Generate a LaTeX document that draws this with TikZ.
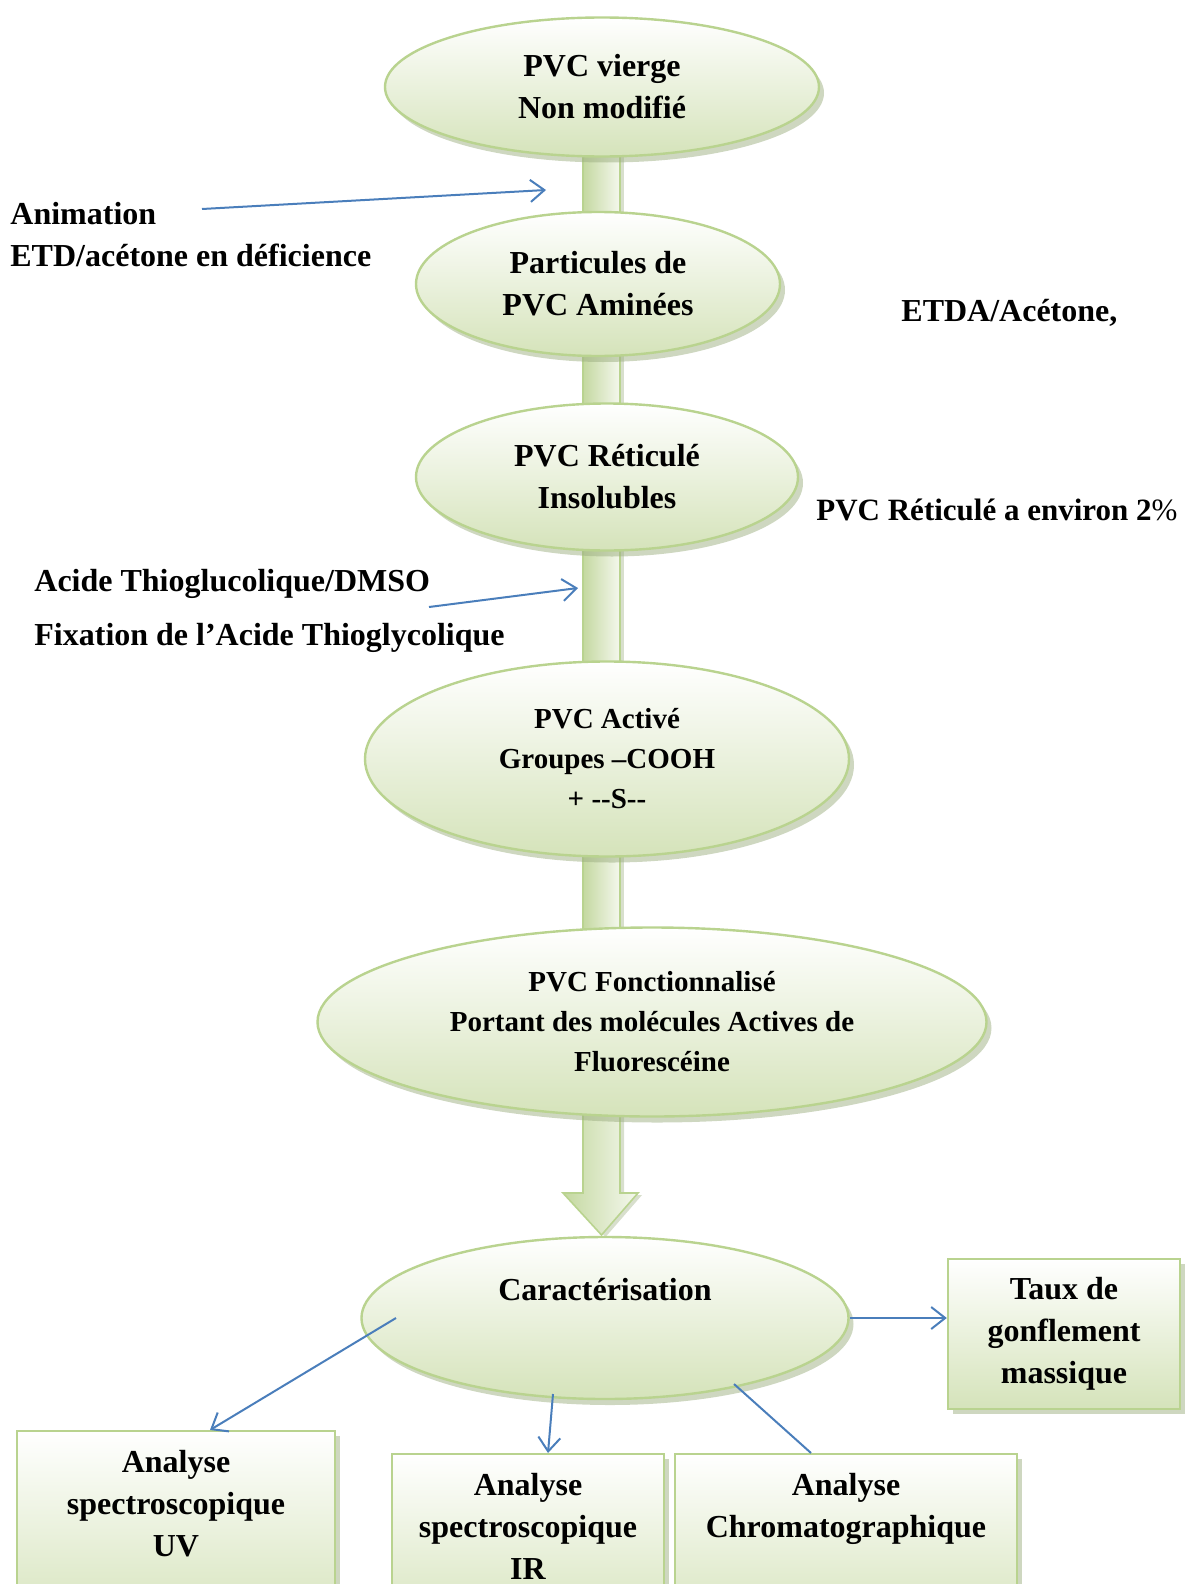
\documentclass[tikz,border=0pt]{standalone}
\usepackage{fontspec}
\setmainfont{Liberation Serif}
\usetikzlibrary{shapes.geometric,shadows,backgrounds,arrows.meta,calc}
\definecolor{rimgreen}{HTML}{B9D38F}
\definecolor{fillgreen}{HTML}{D5E3BA}
\definecolor{shaftgreen}{HTML}{C4D8A0}
\definecolor{shadowgreen}{HTML}{9DAF82}
\definecolor{linkblue}{HTML}{4A7EBB}

\begin{document}
\begin{tikzpicture}[x=0.5pt, y=-0.5pt,
    bigfont/.style={font=\bfseries\fontsize{16}{21}\selectfont},
    smallfont/.style={font=\bfseries\fontsize{14.5}{20}\selectfont},
    blob/.style={ellipse, draw=rimgreen, line width=1.2pt, inner sep=0pt, align=center, bigfont,
        drop shadow={shadow xshift=2.5pt, shadow yshift=-3pt, fill=shadowgreen, opacity=0.5},
        top color=white, bottom color=fillgreen},
    panel/.style={rectangle, draw=rimgreen, line width=1.2pt, inner sep=0pt, align=center, bigfont,
        drop shadow={shadow xshift=2.5pt, shadow yshift=-2.5pt, fill=shadowgreen, opacity=0.5},
        top color=white, bottom color=fillgreen},
    note/.style={inner sep=0pt, align=left, bigfont},
    shaft/.style={draw=rimgreen, line width=0.8pt, left color=shaftgreen, right color=fillgreen!25,
        drop shadow={shadow xshift=2pt, shadow yshift=-1pt, fill=shadowgreen, opacity=0.4}},
    link/.style={draw=linkblue, line width=1pt, -{Straight Barb[length=7pt, width=11pt]}},
    plainlink/.style={draw=linkblue, line width=1pt}
  ]
  \useasboundingbox (0,0) rectangle (1192,1584);

  % main chain
  \draw (602,87) node [blob, minimum width=217pt, minimum height=69.5pt] (vierge) {PVC vierge\\Non modifié};
  \draw (598,284) node [blob, minimum width=182pt, minimum height=72pt] (amine) {Particules de\\PVC Aminées};
  \draw (607,477) node [blob, minimum width=191pt, minimum height=73.5pt] (reticule) {PVC Réticulé\\Insolubles};
  \draw (607,759) node [blob, smallfont, minimum width=242pt, minimum height=97.5pt] (active) {PVC Activé\\Groupes –COOH\\+ -{}-S-{}-};
  \draw (652,1022) node [blob, smallfont, minimum width=334.5pt, minimum height=94.5pt] (fonction) {PVC Fonctionnalisé\\Portant des molécules Actives de\\Fluorescéine};
  \draw (605,1318) node [blob, minimum width=243.5pt, minimum height=81pt] (carac) {};
  \draw ($(carac.center)+(0,-28)$) node [note] (caractext) {Caractérisation};

  % side notes
  \draw (10,234.5) node [note, anchor=west] (amination) {Animation\\ETD/acétone en déficience};
  \draw (901,313) node [note, anchor=west] (etda) {ETDA/Acétone,};
  \draw (816,510) node [note, anchor=west, font=\bfseries\fontsize{15.5}{21}\selectfont] (environ) {PVC Réticulé a environ 2{\mdseries\%}};
  \draw (34,611) node [note, anchor=west] (thio) {Acide Thioglucolique/DMSO\\[6pt]Fixation de l’Acide Thioglycolique};

  % analyses
  \draw (1064,1334) node [panel, minimum width=116pt, minimum height=75pt] (taux) {Taux de\\gonflement\\massique};
  \draw (176,1430) node [panel, anchor=north, minimum width=159pt, minimum height=100pt] (uv) {};
  \draw (528,1453) node [panel, anchor=north, minimum width=136pt, minimum height=90pt] (ir) {};
  \draw (846,1453) node [panel, anchor=north, minimum width=171pt, minimum height=90pt] (chrom) {};
  \draw ($(uv.north)+(0,74)$) node [note, align=center] (uvtext) {Analyse\\spectroscopique\\UV};
  \draw ($(ir.north)+(0,73)$) node [note, align=center] (irtext) {Analyse\\spectroscopique\\IR};
  \draw ($(chrom.north)+(0,56)$) node [note, align=center] (chromtext) {Analyse\\Chromatographique};

  % stems between the ellipses
  \coordinate (shaftL) at (583,0);
  \coordinate (shaftR) at (620,0);
  \coordinate (headL) at (563,1193);
  \coordinate (headR) at (638,1193);
  \coordinate (tip) at (601.5,1235);
  \begin{scope}[on background layer]
    \foreach \a/\b in {vierge/amine, amine/reticule, reticule/active, active/fonction}
      \path [shaft] (shaftL |- \a.center) rectangle (shaftR |- \b.center);
    \path [shaft] (shaftL |- fonction.center) -- (shaftL |- headL) -- (headL) -- (tip)
      -- (headR) -- (shaftR |- headR) -- (shaftR |- fonction.center) -- cycle;
  \end{scope}

  % blue arrows
  \coordinate (aminfrom) at (202,209);
  \coordinate (aminto) at (546,190);
  \coordinate (thiofrom) at (429,607);
  \coordinate (thioto) at (578,588);
  \coordinate (uvfrom) at ($(carac.center)+(-209,0)$);
  \coordinate (irfrom) at (553,1394);
  \coordinate (chromfrom) at (734,1384);
  \path (aminfrom) edge [link] (aminto)
    (thiofrom) edge [link] (thioto)
    (uvfrom) edge [link] ([xshift=17pt]uv.north)
    (irfrom) edge [link] ([xshift=10pt]ir.north)
    (chromfrom) edge [plainlink] ([xshift=-17.5pt]chrom.north)
    (carac.east) edge [link] (carac.east -| taux.west);
\end{tikzpicture}
\end{document}
